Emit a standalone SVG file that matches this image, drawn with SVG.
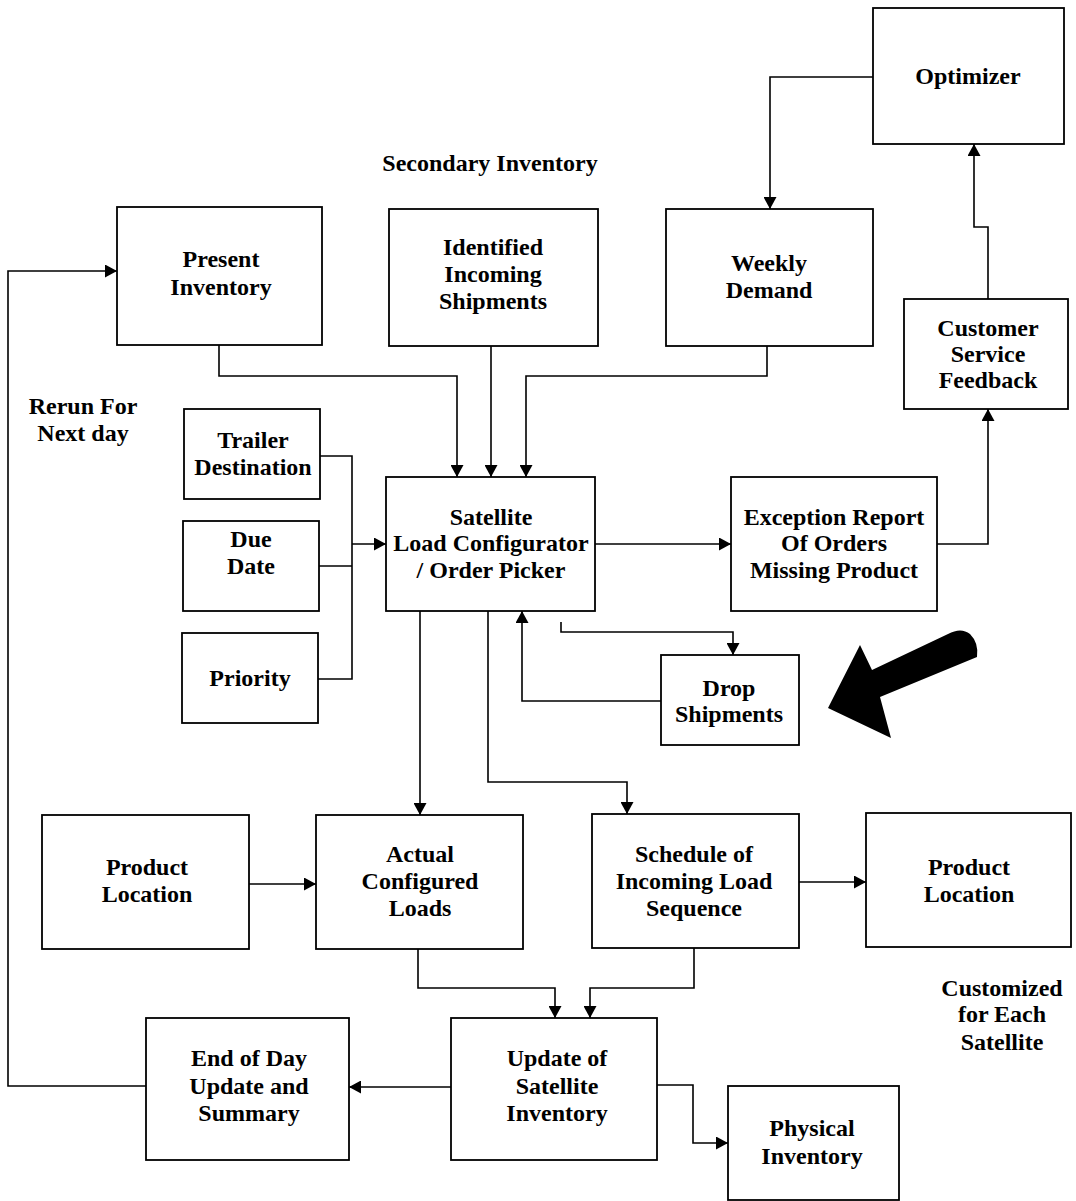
<svg xmlns="http://www.w3.org/2000/svg" width="1076" height="1201" viewBox="0 0 1076 1201">
  <defs>
    <marker id="arrow" markerUnits="userSpaceOnUse" markerWidth="13" markerHeight="13" refX="12" refY="6.5" orient="auto">
      <path d="M0,0 L12,6.5 L0,13 z" fill="#000"/>
    </marker>
    <style>
      .box { fill: #fff; stroke: #000; stroke-width: 1.8; }
      .lbl { font-family: "Liberation Serif", "Times New Roman", serif; font-weight: bold; font-size: 24px; fill: #000; text-anchor: middle; }
      .wire { fill: none; stroke: #000; stroke-width: 1.6; }
      .wire.arr { marker-end: url(#arrow); }
    </style>
  </defs>
  <rect width="1076" height="1201" fill="#fff"/>

  <!-- connectors -->
  <g id="connectors">
    <path class="wire arr" d="M873,77 H770 V209"/>
    <path class="wire arr" d="M988,299 V227 H974 V144"/>
    <path class="wire arr" d="M937,544 H988 V409"/>
    <path class="wire arr" d="M219,345 V376 H457 V477"/>
    <path class="wire arr" d="M491,346 V477"/>
    <path class="wire arr" d="M767,346 V376 H526 V477"/>
    <path class="wire" d="M320,456 H352 V679 H318"/>
    <path class="wire" d="M319,566 H352"/>
    <path class="wire arr" d="M352,544 H386"/>
    <path class="wire arr" d="M595,544 H731"/>
    <path class="wire arr" d="M561,622 V632 H733 V655"/>
    <path class="wire arr" d="M661,701 H522 V611"/>
    <path class="wire arr" d="M420,611 V815"/>
    <path class="wire arr" d="M488,611 V782 H627 V814"/>
    <path class="wire arr" d="M249,884 H316"/>
    <path class="wire arr" d="M799,882 H866"/>
    <path class="wire arr" d="M418,949 V988 H555 V1018"/>
    <path class="wire arr" d="M694,948 V988 H590 V1018"/>
    <path class="wire arr" d="M451,1087 H349"/>
    <path class="wire arr" d="M657,1085 H693 V1143 H728"/>
    <path class="wire arr" d="M146,1086 H8 V271 H117"/>
  </g>

  <!-- free labels -->
  <text class="lbl" x="490" y="171">Secondary Inventory</text>
  <text class="lbl" x="83" y="414">Rerun For</text>
  <text class="lbl" x="83" y="441">Next day</text>
  <text class="lbl" x="1002" y="996">Customized</text>
  <text class="lbl" x="1002" y="1022">for Each</text>
  <text class="lbl" x="1002" y="1050">Satellite</text>

  <!-- pointer arrow -->
  <path d="M948,634 Q961,627 970,634 Q979,643 977,657 L880,697 L891,738 L828,708 L860,645 L872,670 Z" fill="#000"/>

  <!-- nodes -->
  <g id="optimizer">
    <rect class="box" x="873" y="8" width="191" height="136"/>
    <text class="lbl" x="968" y="84">Optimizer</text>
  </g>
  <g id="present-inventory">
    <rect class="box" x="117" y="207" width="205" height="138"/>
    <text class="lbl" x="221" y="267">Present</text>
    <text class="lbl" x="221" y="295">Inventory</text>
  </g>
  <g id="identified-shipments">
    <rect class="box" x="389" y="209" width="209" height="137"/>
    <text class="lbl" x="493" y="255">Identified</text>
    <text class="lbl" x="493" y="282">Incoming</text>
    <text class="lbl" x="493" y="309">Shipments</text>
  </g>
  <g id="weekly-demand">
    <rect class="box" x="666" y="209" width="207" height="137"/>
    <text class="lbl" x="769" y="271">Weekly</text>
    <text class="lbl" x="769" y="298">Demand</text>
  </g>
  <g id="customer-feedback">
    <rect class="box" x="904" y="299" width="164" height="110"/>
    <text class="lbl" x="988" y="336">Customer</text>
    <text class="lbl" x="988" y="362">Service</text>
    <text class="lbl" x="988" y="388">Feedback</text>
  </g>
  <g id="trailer-destination">
    <rect class="box" x="184" y="409" width="136" height="90"/>
    <text class="lbl" x="253" y="448">Trailer</text>
    <text class="lbl" x="253" y="475">Destination</text>
  </g>
  <g id="due-date">
    <rect class="box" x="183" y="521" width="136" height="90"/>
    <text class="lbl" x="251" y="547">Due</text>
    <text class="lbl" x="251" y="574">Date</text>
  </g>
  <g id="priority">
    <rect class="box" x="182" y="633" width="136" height="90"/>
    <text class="lbl" x="250" y="686">Priority</text>
  </g>
  <g id="load-configurator">
    <rect class="box" x="386" y="477" width="209" height="134"/>
    <text class="lbl" x="491" y="525">Satellite</text>
    <text class="lbl" x="491" y="551">Load Configurator</text>
    <text class="lbl" x="491" y="578">/ Order Picker</text>
  </g>
  <g id="exception-report">
    <rect class="box" x="731" y="477" width="206" height="134"/>
    <text class="lbl" x="834" y="525">Exception Report</text>
    <text class="lbl" x="834" y="551">Of Orders</text>
    <text class="lbl" x="834" y="578">Missing Product</text>
  </g>
  <g id="drop-shipments">
    <rect class="box" x="661" y="655" width="138" height="90"/>
    <text class="lbl" x="729" y="696">Drop</text>
    <text class="lbl" x="729" y="722">Shipments</text>
  </g>
  <g id="product-location-a">
    <rect class="box" x="42" y="815" width="207" height="134"/>
    <text class="lbl" x="147" y="875">Product</text>
    <text class="lbl" x="147" y="902">Location</text>
  </g>
  <g id="configured-loads">
    <rect class="box" x="316" y="815" width="207" height="134"/>
    <text class="lbl" x="420" y="862">Actual</text>
    <text class="lbl" x="420" y="889">Configured</text>
    <text class="lbl" x="420" y="916">Loads</text>
  </g>
  <g id="load-sequence">
    <rect class="box" x="592" y="814" width="207" height="134"/>
    <text class="lbl" x="694" y="862">Schedule of</text>
    <text class="lbl" x="694" y="889">Incoming Load</text>
    <text class="lbl" x="694" y="916">Sequence</text>
  </g>
  <g id="product-location-b">
    <rect class="box" x="866" y="813" width="205" height="134"/>
    <text class="lbl" x="969" y="875">Product</text>
    <text class="lbl" x="969" y="902">Location</text>
  </g>
  <g id="end-of-day">
    <rect class="box" x="146" y="1018" width="203" height="142"/>
    <text class="lbl" x="249" y="1066">End of Day</text>
    <text class="lbl" x="249" y="1094">Update and</text>
    <text class="lbl" x="249" y="1121">Summary</text>
  </g>
  <g id="satellite-inventory">
    <rect class="box" x="451" y="1018" width="206" height="142"/>
    <text class="lbl" x="557" y="1066">Update of</text>
    <text class="lbl" x="557" y="1094">Satellite</text>
    <text class="lbl" x="557" y="1121">Inventory</text>
  </g>
  <g id="physical-inventory">
    <rect class="box" x="728" y="1086" width="171" height="114"/>
    <text class="lbl" x="812" y="1136">Physical</text>
    <text class="lbl" x="812" y="1164">Inventory</text>
  </g>
</svg>
